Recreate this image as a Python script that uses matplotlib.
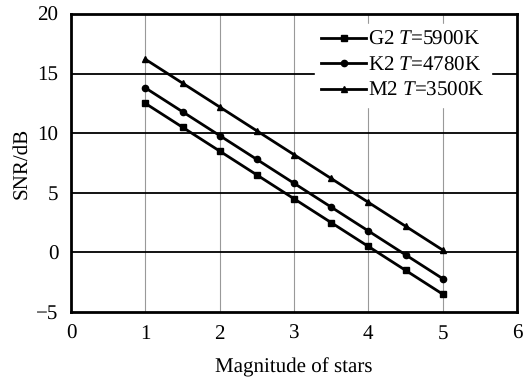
import matplotlib
matplotlib.use("Agg")
import matplotlib.pyplot as plt

plt.rcParams['font.family'] = ['Liberation Serif', 'DejaVu Serif']
plt.rcParams['mathtext.fontset'] = 'custom'
plt.rcParams['mathtext.it'] = 'Liberation Serif:italic'
plt.rcParams['mathtext.rm'] = 'Liberation Serif'
plt.rcParams['text.hinting'] = 'no_hinting'
plt.rcParams['text.hinting_factor'] = 1

mag = [1, 1.5, 2, 2.5, 3, 3.5, 4, 4.5, 5]
snr_g2 = [12.5, 10.5, 8.5, 6.5, 4.5, 2.5, 0.5, -1.5, -3.5]
snr_k2 = [13.8, 11.8, 9.8, 7.8, 5.8, 3.8, 1.8, -0.2, -2.2]
snr_m2 = [16.2, 14.2, 12.2, 10.2, 8.2, 6.2, 4.2, 2.2, 0.2]
labels = ["G2 $T$=5900K", "K2 $T$=4780K", "M2 $T$=3500K"]

fig = plt.figure(figsize=(5.32, 3.77), dpi=100)
ax = fig.add_axes([0.1335, 0.1724, 0.9718 - 0.1335, 0.9629 - 0.1724])

ax.plot(mag, snr_g2, color='black', lw=2, marker='s', ms=4, label=labels[0])
ax.plot(mag, snr_k2, color='black', lw=2, marker='o', ms=4.5, label=labels[1])
ax.plot(mag, snr_m2, color='black', lw=2, marker='^', ms=4.5, label=labels[2])

ax.set_xlim(0, 6)
ax.set_ylim(-5, 20)
ax.set_xticks(range(0, 7))
ax.set_yticks([-5, 0, 5, 10, 15, 20])
ax.set_yticklabels(['\u22125', '0', '5', '10', '15', '20'])
for v in [1, 2, 3, 4, 5]:
    ax.axvline(v, color='#999999', lw=0.8, zorder=0)
for v in [0, 5, 10, 15]:
    ax.axhline(v, color='black', lw=1.3, zorder=0)
for s in ax.spines.values():
    s.set_linewidth(2)
ax.tick_params(labelsize=15, length=0, pad=9)
ax.set_xlabel('Magnitude of stars', fontsize=15, labelpad=10)
ax.set_ylabel('SNR/dB', fontsize=15, labelpad=4)

leg = ax.legend(loc='upper right', bbox_to_anchor=(0.966, 1.0), frameon=True,
                fontsize=15, handlelength=2.15, handletextpad=0.1,
                labelspacing=0.3, borderpad=0.3, fancybox=False)
leg.set_zorder(10)
leg.get_frame().set_edgecolor('white')
leg.get_frame().set_facecolor('white')
leg.get_frame().set_alpha(1)

fig.savefig('out.png', dpi=100)
